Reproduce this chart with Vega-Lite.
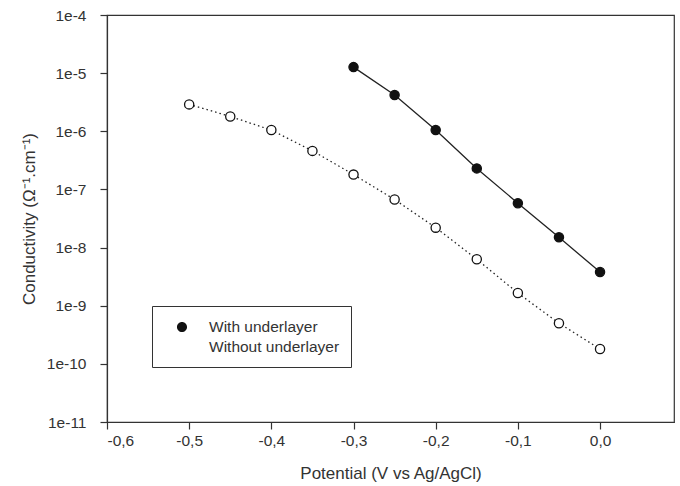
{
  "$schema": "https://vega.github.io/schema/vega-lite/v6.json",
  "width": 567,
  "height": 407,
  "autosize": "none",
  "padding": {"left": 107, "top": 15, "right": 6, "bottom": 64},
  "background": "white",
  "config": {
    "font": "Liberation Sans",
    "view": {"stroke": "#333", "strokeWidth": 1.2},
    "axis": {
      "grid": false,
      "domainColor": "#333",
      "domainWidth": 1.2,
      "tickColor": "#333",
      "tickWidth": 1.2,
      "tickSize": 7,
      "labelColor": "#333",
      "labelFont": "Liberation Sans",
      "labelFontSize": 15.5,
      "titleColor": "#333",
      "titleFont": "Liberation Sans",
      "titleFontSize": 17,
      "titleFontWeight": "normal"
    },
    "legend": {
      "labelFont": "Liberation Sans",
      "labelFontSize": 15.5,
      "labelColor": "#333"
    }
  },
  "data": {
    "values": [
      {"series": "With underlayer", "x": -0.3, "y": 1.27e-5},
      {"series": "With underlayer", "x": -0.25, "y": 4.2e-6},
      {"series": "With underlayer", "x": -0.2, "y": 1.05e-6},
      {"series": "With underlayer", "x": -0.15, "y": 2.3e-7},
      {"series": "With underlayer", "x": -0.1, "y": 5.8e-8},
      {"series": "With underlayer", "x": -0.05, "y": 1.5e-8},
      {"series": "With underlayer", "x": 0.0, "y": 3.8e-9},
      {"series": "Without underlayer", "x": -0.5, "y": 2.9e-6},
      {"series": "Without underlayer", "x": -0.45, "y": 1.8e-6},
      {"series": "Without underlayer", "x": -0.4, "y": 1.05e-6},
      {"series": "Without underlayer", "x": -0.35, "y": 4.6e-7},
      {"series": "Without underlayer", "x": -0.3, "y": 1.8e-7},
      {"series": "Without underlayer", "x": -0.25, "y": 6.7e-8},
      {"series": "Without underlayer", "x": -0.2, "y": 2.2e-8},
      {"series": "Without underlayer", "x": -0.15, "y": 6.3e-9},
      {"series": "Without underlayer", "x": -0.1, "y": 1.65e-9},
      {"series": "Without underlayer", "x": -0.05, "y": 5.0e-10},
      {"series": "Without underlayer", "x": 0.0, "y": 1.8e-10}
    ]
  },
  "encoding": {
    "x": {
      "field": "x",
      "type": "quantitative",
      "scale": {"domain": [-0.6, 0.09], "nice": false, "zero": false},
      "axis": {
        "title": "Potential (V vs Ag/AgCl)",
        "values": [-0.6, -0.5, -0.4, -0.3, -0.2, -0.1, 0.0],
        "labelExpr": "(datum.value < -0.001 ? '-' : '') + '0,' + round(abs(datum.value) * 10)",
        "labelPadding": 4,
        "titlePadding": 17
      }
    },
    "y": {
      "field": "y",
      "type": "quantitative",
      "scale": {"type": "log", "domain": [1e-11, 1e-4], "nice": false},
      "axis": {
        "title": "Conductivity (Ω⁻¹.cm⁻¹)",
        "values": [1e-11, 1e-10, 1e-9, 1e-8, 1e-7, 1e-6, 1e-5, 1e-4],
        "labelExpr": "'1e' + round(log(datum.value) / LN10)",
        "labelPadding": 14,
        "titlePadding": 8
      }
    }
  },
  "layer": [
    {
      "transform": [{"filter": "datum.series === 'With underlayer'"}],
      "mark": {"type": "line", "color": "#222", "strokeWidth": 1.3},
      "encoding": {}
    },
    {
      "transform": [{"filter": "datum.series === 'Without underlayer'"}],
      "mark": {"type": "line", "color": "#222", "strokeWidth": 1.3, "strokeDash": [1.5, 3]},
      "encoding": {}
    },
    {
      "transform": [{"filter": "datum.series === 'With underlayer'"}],
      "mark": {"type": "point", "shape": "circle", "filled": true, "fill": "#111", "size": 85, "stroke": "#111", "strokeWidth": 1.3, "opacity": 1},
      "encoding": {}
    },
    {
      "transform": [{"filter": "datum.series === 'Without underlayer'"}],
      "mark": {"type": "point", "shape": "circle", "filled": true, "fill": "white", "size": 85, "stroke": "#111", "strokeWidth": 1.3, "opacity": 1},
      "encoding": {}
    },
    {
      "mark": {"type": "point", "filled": true, "size": 0, "stroke": "#111", "strokeWidth": 1.3, "opacity": 1},
      "encoding": {
        "shape": {
          "field": "series",
          "type": "nominal",
          "scale": {
            "domain": ["With underlayer", "Without underlayer"],
            "range": [
              "M-2,0H-0.56M0.56,0H1.9M0.56,0A0.56,0.56 0 1,1 -0.56,0A0.56,0.56 0 1,1 0.56,0Z",
              "M-2,0h0.18M-1.55,0h0.18M-1.1,0h0.18M0.8,0h0.18M1.25,0h0.18M1.7,0h0.18M0.56,0A0.56,0.56 0 1,1 -0.56,0A0.56,0.56 0 1,1 0.56,0Z"
            ]
          },
          "legend": {
            "title": null,
            "orient": "none",
            "legendX": 45,
            "legendY": 291,
            "strokeColor": "#333",
            "fillColor": "white",
            "padding": 11,
            "symbolSize": 324,
            "symbolOffset": 9,
            "labelOffset": 17,
            "rowPadding": 1,
            "symbolOpacity": 1,
            "symbolStrokeWidth": 1.3,
            "symbolStrokeColor": "#111"
          }
        },
        "fill": {
          "field": "series",
          "type": "nominal",
          "scale": {"domain": ["With underlayer", "Without underlayer"], "range": ["#111", "white"]},
          "legend": {
            "title": null,
            "orient": "none",
            "legendX": 45,
            "legendY": 291,
            "strokeColor": "#333",
            "fillColor": "white",
            "padding": 11,
            "symbolSize": 324,
            "symbolOffset": 9,
            "labelOffset": 17,
            "rowPadding": 1,
            "symbolOpacity": 1,
            "symbolStrokeWidth": 1.3,
            "symbolStrokeColor": "#111"
          }
        }
      }
    }
  ]
}
